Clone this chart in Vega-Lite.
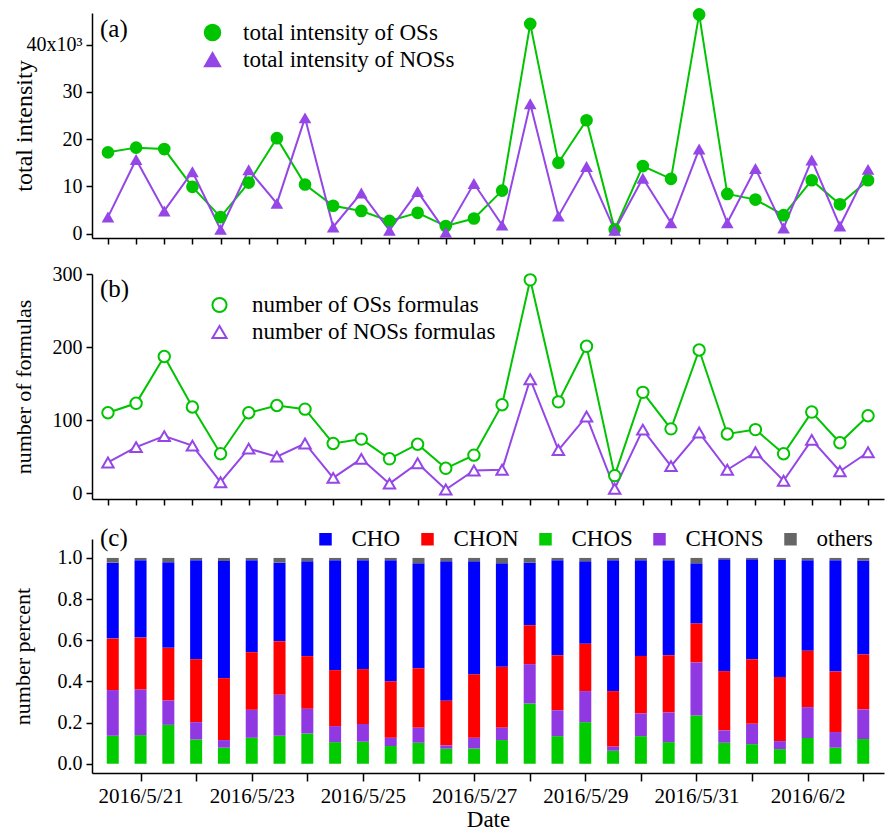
{
  "$schema": "https://vega.github.io/schema/vega-lite/v6.json",
  "padding": {"left": 11, "top": 8, "right": 2, "bottom": 4},
  "spacing": 19,
  "datasets": {
    "ts": [
      {"date": "2016-05-20T12:00:00", "os_int": 17.2, "nos_int": 3.5, "os_n": 110, "nos_n": 42},
      {"date": "2016-05-21T00:00:00", "os_int": 18.2, "nos_int": 15.7, "os_n": 123, "nos_n": 63},
      {"date": "2016-05-21T12:00:00", "os_int": 17.9, "nos_int": 4.8, "os_n": 187, "nos_n": 78},
      {"date": "2016-05-22T00:00:00", "os_int": 9.9, "nos_int": 13.1, "os_n": 118, "nos_n": 65},
      {"date": "2016-05-22T12:00:00", "os_int": 3.5, "nos_int": 0.9, "os_n": 54, "nos_n": 15},
      {"date": "2016-05-23T00:00:00", "os_int": 10.8, "nos_int": 13.5, "os_n": 110, "nos_n": 61},
      {"date": "2016-05-23T12:00:00", "os_int": 20.2, "nos_int": 6.4, "os_n": 120, "nos_n": 50},
      {"date": "2016-05-24T00:00:00", "os_int": 10.4, "nos_int": 24.5, "os_n": 115, "nos_n": 68},
      {"date": "2016-05-24T12:00:00", "os_int": 5.9, "nos_int": 1.4, "os_n": 68, "nos_n": 21},
      {"date": "2016-05-25T00:00:00", "os_int": 4.8, "nos_int": 8.6, "os_n": 74, "nos_n": 47},
      {"date": "2016-05-25T12:00:00", "os_int": 2.7, "nos_int": 0.7, "os_n": 47, "nos_n": 13},
      {"date": "2016-05-26T00:00:00", "os_int": 4.4, "nos_int": 8.9, "os_n": 67, "nos_n": 41},
      {"date": "2016-05-26T12:00:00", "os_int": 1.6, "nos_int": 0.3, "os_n": 34, "nos_n": 5},
      {"date": "2016-05-27T00:00:00", "os_int": 3.2, "nos_int": 10.6, "os_n": 52, "nos_n": 31},
      {"date": "2016-05-27T12:00:00", "os_int": 9.1, "nos_int": 1.8, "os_n": 121, "nos_n": 32},
      {"date": "2016-05-28T00:00:00", "os_int": 44.4, "nos_int": 27.5, "os_n": 292, "nos_n": 156},
      {"date": "2016-05-28T12:00:00", "os_int": 15.0, "nos_int": 3.7, "os_n": 125, "nos_n": 59},
      {"date": "2016-05-29T00:00:00", "os_int": 24.0, "nos_int": 14.2, "os_n": 201, "nos_n": 105},
      {"date": "2016-05-29T12:00:00", "os_int": 0.9, "nos_int": 0.7, "os_n": 24, "nos_n": 6},
      {"date": "2016-05-30T00:00:00", "os_int": 14.3, "nos_int": 11.7, "os_n": 138, "nos_n": 87},
      {"date": "2016-05-30T12:00:00", "os_int": 11.6, "nos_int": 2.3, "os_n": 88, "nos_n": 37},
      {"date": "2016-05-31T00:00:00", "os_int": 46.4, "nos_int": 17.9, "os_n": 196, "nos_n": 83},
      {"date": "2016-05-31T12:00:00", "os_int": 8.4, "nos_int": 2.3, "os_n": 81, "nos_n": 32},
      {"date": "2016-06-01T00:00:00", "os_int": 7.2, "nos_int": 13.8, "os_n": 87, "nos_n": 56},
      {"date": "2016-06-01T12:00:00", "os_int": 3.9, "nos_int": 1.2, "os_n": 54, "nos_n": 17},
      {"date": "2016-06-02T00:00:00", "os_int": 11.3, "nos_int": 15.6, "os_n": 111, "nos_n": 73},
      {"date": "2016-06-02T12:00:00", "os_int": 6.2, "nos_int": 1.6, "os_n": 69, "nos_n": 30},
      {"date": "2016-06-03T00:00:00", "os_int": 11.3, "nos_int": 13.6, "os_n": 106, "nos_n": 56}
    ],
    "pct": [
      {"date": "2016-05-20T12:00:00", "CHO": 0.369, "CHON": 0.250, "CHOS": 0.136, "CHONS": 0.222, "others": 0.023},
      {"date": "2016-05-21T00:00:00", "CHO": 0.376, "CHON": 0.253, "CHOS": 0.139, "CHONS": 0.221, "others": 0.011},
      {"date": "2016-05-21T12:00:00", "CHO": 0.416, "CHON": 0.256, "CHOS": 0.189, "CHONS": 0.118, "others": 0.021},
      {"date": "2016-05-22T00:00:00", "CHO": 0.481, "CHON": 0.306, "CHOS": 0.118, "CHONS": 0.084, "others": 0.011},
      {"date": "2016-05-22T12:00:00", "CHO": 0.569, "CHON": 0.301, "CHOS": 0.078, "CHONS": 0.037, "others": 0.015},
      {"date": "2016-05-23T00:00:00", "CHO": 0.447, "CHON": 0.280, "CHOS": 0.126, "CHONS": 0.136, "others": 0.011},
      {"date": "2016-05-23T12:00:00", "CHO": 0.382, "CHON": 0.260, "CHOS": 0.136, "CHONS": 0.199, "others": 0.023},
      {"date": "2016-05-24T00:00:00", "CHO": 0.461, "CHON": 0.256, "CHOS": 0.147, "CHONS": 0.120, "others": 0.016},
      {"date": "2016-05-24T12:00:00", "CHO": 0.534, "CHON": 0.272, "CHOS": 0.105, "CHONS": 0.078, "others": 0.011},
      {"date": "2016-05-25T00:00:00", "CHO": 0.529, "CHON": 0.267, "CHOS": 0.107, "CHONS": 0.086, "others": 0.011},
      {"date": "2016-05-25T12:00:00", "CHO": 0.589, "CHON": 0.274, "CHOS": 0.086, "CHONS": 0.040, "others": 0.011},
      {"date": "2016-05-26T00:00:00", "CHO": 0.510, "CHON": 0.289, "CHOS": 0.102, "CHONS": 0.073, "others": 0.026},
      {"date": "2016-05-26T12:00:00", "CHO": 0.678, "CHON": 0.217, "CHOS": 0.073, "CHONS": 0.016, "others": 0.016},
      {"date": "2016-05-27T00:00:00", "CHO": 0.550, "CHON": 0.308, "CHOS": 0.074, "CHONS": 0.052, "others": 0.016},
      {"date": "2016-05-27T12:00:00", "CHO": 0.503, "CHON": 0.296, "CHOS": 0.115, "CHONS": 0.060, "others": 0.026},
      {"date": "2016-05-28T00:00:00", "CHO": 0.304, "CHON": 0.189, "CHOS": 0.293, "CHONS": 0.191, "others": 0.023},
      {"date": "2016-05-28T12:00:00", "CHO": 0.462, "CHON": 0.267, "CHOS": 0.134, "CHONS": 0.126, "others": 0.011},
      {"date": "2016-05-29T00:00:00", "CHO": 0.401, "CHON": 0.230, "CHOS": 0.202, "CHONS": 0.151, "others": 0.016},
      {"date": "2016-05-29T12:00:00", "CHO": 0.636, "CHON": 0.270, "CHOS": 0.063, "CHONS": 0.020, "others": 0.011},
      {"date": "2016-05-30T00:00:00", "CHO": 0.465, "CHON": 0.280, "CHOS": 0.134, "CHONS": 0.110, "others": 0.011},
      {"date": "2016-05-30T12:00:00", "CHO": 0.462, "CHON": 0.278, "CHOS": 0.105, "CHONS": 0.144, "others": 0.011},
      {"date": "2016-05-31T00:00:00", "CHO": 0.293, "CHON": 0.189, "CHOS": 0.235, "CHONS": 0.257, "others": 0.026},
      {"date": "2016-05-31T12:00:00", "CHO": 0.544, "CHON": 0.288, "CHOS": 0.102, "CHONS": 0.060, "others": 0.006},
      {"date": "2016-06-01T00:00:00", "CHO": 0.486, "CHON": 0.314, "CHOS": 0.095, "CHONS": 0.099, "others": 0.006},
      {"date": "2016-06-01T12:00:00", "CHO": 0.569, "CHON": 0.311, "CHOS": 0.071, "CHONS": 0.039, "others": 0.010},
      {"date": "2016-06-02T00:00:00", "CHO": 0.440, "CHON": 0.274, "CHOS": 0.125, "CHONS": 0.150, "others": 0.011},
      {"date": "2016-06-02T12:00:00", "CHO": 0.541, "CHON": 0.294, "CHOS": 0.078, "CHONS": 0.076, "others": 0.011},
      {"date": "2016-06-03T00:00:00", "CHO": 0.456, "CHON": 0.267, "CHOS": 0.120, "CHONS": 0.144, "others": 0.013}
    ],
    "cats": [
      {"cat": "CHOS", "rank": 1},
      {"cat": "CHONS", "rank": 2},
      {"cat": "CHON", "rank": 3},
      {"cat": "CHO", "rank": 4},
      {"cat": "others", "rank": 5}
    ]
  },
  "config": {
    "view": {"stroke": null},
    "font": "Liberation Serif",
    "axis": {
      "grid": false,
      "domainColor": "black",
      "domainWidth": 1.5,
      "tickColor": "black",
      "tickWidth": 1.5,
      "labelColor": "black",
      "titleColor": "black",
      "labelFont": "Liberation Serif",
      "titleFont": "Liberation Serif",
      "titleFontWeight": "normal",
      "labelFontSize": 20,
      "titleFontSize": 22
    },
    "legend": {"labelFont": "Liberation Serif", "labelColor": "black", "labelLimit": 400}
  },
  "resolve": {"scale": {"color": "independent", "shape": "independent"}, "legend": {"color": "independent", "shape": "independent"}},
  "vconcat": [
    {
      "width": 792,
      "height": 225,
      "title": {"text": "(a)", "anchor": "start", "frame": "group", "offset": -34, "dx": 8, "fontSize": 25, "font": "Liberation Serif", "fontWeight": "normal", "color": "black"},
      "data": {"name": "ts"},
      "transform": [{"fold": ["os_int", "nos_int"], "as": ["series", "val"]}],
      "encoding": {
        "x": {
          "field": "date", "type": "temporal", "title": null,
          "scale": {"domain": [{"year": 2016, "month": 5, "date": 20, "hours": 5, "minutes": 12}, {"year": 2016, "month": 6, "date": 3, "hours": 6, "minutes": 48}], "nice": false},
          "axis": {"labels": false, "tickSize": 6}
        },
        "y": {
          "field": "val", "type": "quantitative", "title": "total intensity",
          "scale": {"domain": [-0.93, 46.7], "nice": false, "zero": false},
          "axis": {"values": [0, 10, 20, 30, 40], "tickSize": 6, "labelPadding": 4, "titlePadding": -10, "titleFontSize": 24,
                   "labelExpr": "datum.value == 40 ? '40x10³' : datum.label"}
        },
        "color": {"field": "series", "type": "nominal", "scale": {"domain": ["os_int", "nos_int"], "range": ["#00c400", "#9446e6"]},
          "legend": {
            "orient": "none", "legendX": 109, "legendY": 8, "title": null,
            "labelFontSize": 23, "labelOffset": 19, "labelLimit": 400, "symbolSize": 256, "rowPadding": 3,
            "labelExpr": "datum.value == 'os_int' ? 'total intensity of OSs' : 'total intensity of NOSs'"
          }
        }
      },
      "layer": [
        {"mark": {"type": "line", "strokeWidth": 2}, "encoding": {}},
        {
          "mark": {"type": "point", "filled": true, "opacity": 1, "size": 160},
          "encoding": {
            "shape": {"field": "series", "type": "nominal", "scale": {"domain": ["os_int", "nos_int"], "range": ["circle", "triangle-up"]},
              "legend": {
                "orient": "none", "legendX": 109, "legendY": 8, "title": null,
                "labelFontSize": 23, "labelOffset": 19, "labelLimit": 400, "symbolSize": 256, "rowPadding": 3,
                "labelExpr": "datum.value == 'os_int' ? 'total intensity of OSs' : 'total intensity of NOSs'"
              }
            }
          }
        }
      ]
    },
    {
      "width": 792,
      "height": 225,
      "title": {"text": "(b)", "anchor": "start", "frame": "group", "offset": -38, "dx": 8, "fontSize": 25, "font": "Liberation Serif", "fontWeight": "normal", "color": "black"},
      "data": {"name": "ts"},
      "transform": [{"fold": ["os_n", "nos_n"], "as": ["series", "val"]}],
      "encoding": {
        "x": {
          "field": "date", "type": "temporal", "title": null,
          "scale": {"domain": [{"year": 2016, "month": 5, "date": 20, "hours": 5, "minutes": 12}, {"year": 2016, "month": 6, "date": 3, "hours": 6, "minutes": 48}], "nice": false},
          "axis": {"labels": false, "tickSize": 6}
        },
        "y": {
          "field": "val", "type": "quantitative", "title": "number of formulas",
          "scale": {"domain": [-8, 300], "nice": false, "zero": false},
          "axis": {"values": [0, 100, 200, 300], "tickSize": 6, "labelPadding": 4, "titlePadding": 17}
        },
        "color": {"field": "series", "type": "nominal", "scale": {"domain": ["os_n", "nos_n"], "range": ["#00c400", "#9446e6"]},
          "legend": {
            "orient": "none", "legendX": 116, "legendY": 19.5, "title": null,
            "labelFontSize": 23, "labelOffset": 21, "labelLimit": 400, "symbolSize": 200, "rowPadding": 3, "symbolStrokeWidth": 2,
            "labelExpr": "datum.value == 'os_n' ? 'number of OSs formulas' : 'number of NOSs formulas'"
          }
        }
      },
      "layer": [
        {"mark": {"type": "line", "strokeWidth": 2}, "encoding": {}},
        {
          "mark": {"type": "point", "filled": false, "fill": "white", "fillOpacity": 1, "opacity": 1, "strokeWidth": 2, "size": 130},
          "encoding": {
            "shape": {"field": "series", "type": "nominal", "scale": {"domain": ["os_n", "nos_n"], "range": ["circle", "triangle-up"]},
              "legend": {
                "orient": "none", "legendX": 116, "legendY": 19.5, "title": null,
                "labelFontSize": 23, "labelOffset": 21, "labelLimit": 400, "symbolSize": 200, "rowPadding": 3, "symbolStrokeWidth": 2,
                "labelExpr": "datum.value == 'os_n' ? 'number of OSs formulas' : 'number of NOSs formulas'"
              }
            }
          }
        }
      ]
    },
    {
      "width": 792,
      "height": 234,
      "title": {"text": "(c)", "anchor": "start", "frame": "group", "offset": -23, "dx": 8, "fontSize": 25, "font": "Liberation Serif", "fontWeight": "normal", "color": "black"},
      "data": {"name": "pct"},
      "transform": [
        {"fold": ["CHO", "CHON", "CHOS", "CHONS", "others"], "as": ["cat", "frac"]},
        {"lookup": "cat", "from": {"data": {"name": "cats"}, "key": "cat", "fields": ["rank"]}}
      ],
      "mark": {"type": "bar", "size": 12},
      "encoding": {
        "x": {
          "field": "date", "type": "temporal", "title": "Date",
          "scale": {"domain": [{"year": 2016, "month": 5, "date": 20, "hours": 5, "minutes": 12}, {"year": 2016, "month": 6, "date": 3, "hours": 6, "minutes": 48}], "nice": false},
          "axis": {
            "format": "%Y/%-m/%-d",
            "labelFontSize": 21,
            "titleFontSize": 23,
            "labelPadding": 4,
            "titlePadding": 2,
            "tickSize": 8
          }
        },
        "y": {
          "field": "frac", "type": "quantitative", "title": "number percent", "stack": "zero",
          "scale": {"domain": [-0.045, 1.092], "nice": false, "zero": false},
          "axis": {"values": [0, 0.2, 0.4, 0.6, 0.8, 1.0], "format": ".1f", "tickSize": 6, "labelPadding": 4, "titlePadding": 23}
        },
        "order": {"field": "rank", "type": "quantitative", "sort": "ascending"},
        "color": {
          "field": "cat", "type": "nominal",
          "scale": {"domain": ["CHO", "CHON", "CHOS", "CHONS", "others"], "range": ["#0000ff", "#ff0000", "#00cc00", "#9038e2", "#666666"]},
          "legend": {
            "orient": "none", "direction": "horizontal", "legendX": 222, "legendY": -11.5, "title": null,
            "labelFontSize": 23, "labelOffset": 14.5, "symbolSize": 156, "symbolType": "square",
            "columnPadding": 15, "symbolStrokeWidth": 0, "symbolOpacity": 1
          }
        }
      }
    }
  ]
}
